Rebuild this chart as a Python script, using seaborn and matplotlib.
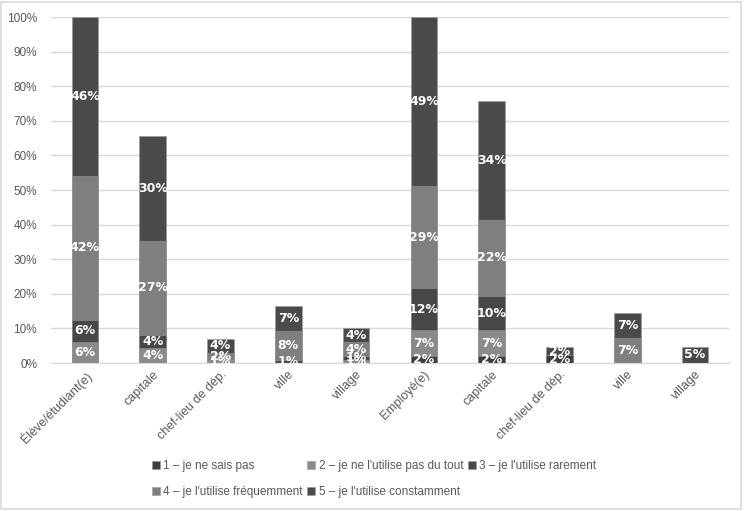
import matplotlib
matplotlib.use('Agg')
import matplotlib.pyplot as plt
import seaborn as sns
import numpy as np
import pandas as pd
from matplotlib.patches import Rectangle
from matplotlib.ticker import PercentFormatter

sns.set_style('white')
plt.rcParams['font.family'] = ['Liberation Sans', 'DejaVu Sans']

categories = ['Élève/étudiant(e)', 'capitale', 'chef-lieu de dép.', 'ville', 'village',
              'Employé(e)', 'capitale', 'chef-lieu de dép.', 'ville', 'village']

series_names = ['1 – je ne sais pas', "2 – je ne l'utilise pas du tout", "3 – je l'utilise rarement",
                "4 – je l'utilise fréquemment", "5 – je l'utilise constamment"]

# values in % of respondents
s1 = [0, 0, 0, 0, 0, 2.0, 2.0, 2.3, 0, 0]
s2 = [6.2, 4.3, 1.0, 0, 1.0, 7.4, 7.4, 0, 0, 0]
s3 = [6.3, 3.8, 0, 1.0, 1.0, 12.3, 10.0, 0, 0, 0]
s4 = [41.6, 27.2, 2.0, 8.2, 4.0, 29.4, 22.0, 0, 7.2, 0]
s5 = [45.9, 30.3, 4.0, 7.3, 4.1, 48.9, 34.3, 2.3, 7.2, 4.7]

colors = ['#3d3d3d', '#8a8a8a', '#474747', '#7f7f7f', '#4a4a4a']

series = [s1, s2, s3, s4, s5]
data = np.array(series) / 100.0
cum = np.cumsum(data, axis=0)

fig = plt.figure(figsize=(7.44, 5.11), dpi=100)
ax = fig.add_axes([51 / 744, 1 - 363 / 511, 678 / 744, 346 / 511])

# stacked bars drawn from the top down: each layer is the running total
for k in range(4, -1, -1):
    df = pd.DataFrame({'pos': np.arange(len(categories)), 'val': cum[k]})
    sns.barplot(data=df, x='pos', y='val', color=colors[k], width=0.39,
                saturation=1, ax=ax, zorder=3, label=series_names[k], errorbar=None,
                edgecolor='#9a9a9a', linewidth=0.4)

for i in range(len(categories)):
    for k in range(5):
        v = data[k, i]
        if v <= 0:
            continue
        mid = cum[k, i] - v / 2
        ax.text(i, mid, f'{v * 100:.0f}%', ha='center', va='center', color='white',
                fontsize=9, fontweight='bold', family='DejaVu Sans', zorder=5)

ax.set_ylim(0, 1)
ax.set_xlim(-0.5, len(categories) - 0.5)
ax.yaxis.set_major_locator(plt.MultipleLocator(0.1))
ax.yaxis.set_major_formatter(PercentFormatter(1.0, decimals=0))
ax.grid(axis='y', color='#d9d9d9', linewidth=1, zorder=0)
ax.set_axisbelow(True)
for side in ['top', 'right', 'left']:
    ax.spines[side].set_visible(False)
ax.spines['bottom'].set_color('#d9d9d9')
ax.spines['bottom'].set_zorder(4)
ax.tick_params(length=0, labelcolor='#595959', labelsize=8.5)
ax.tick_params(axis='y', pad=10)
ax.tick_params(axis='x', pad=4, labelsize=9)
ax.set_xticks(range(len(categories)))
ax.set_xticklabels(categories, rotation=45, ha='right', rotation_mode='anchor')
ax.set_xlabel('')
ax.set_ylabel('')

leg = ax.get_legend()
if leg is not None:
    leg.remove()
handles, labels = ax.get_legend_handles_labels()
hmap = dict(zip(labels, handles))
order = [0, 3, 1, 4, 2]
fig.legend([hmap[series_names[o]] for o in order], [series_names[o] for o in order],
           ncol=3, loc='center', bbox_to_anchor=(374 / 744, 1 - 479 / 511),
           frameon=False, fontsize=8.5, labelcolor='#595959',
           handlelength=0.65, handleheight=0.65, handletextpad=0.3,
           columnspacing=0.4, labelspacing=1.15)

fig.patches.append(Rectangle((0.002, 0.003), 0.994, 0.994, transform=fig.transFigure,
                             fill=False, edgecolor='#d9d9d9', linewidth=1.2))

fig.savefig('out.png', dpi=100)
